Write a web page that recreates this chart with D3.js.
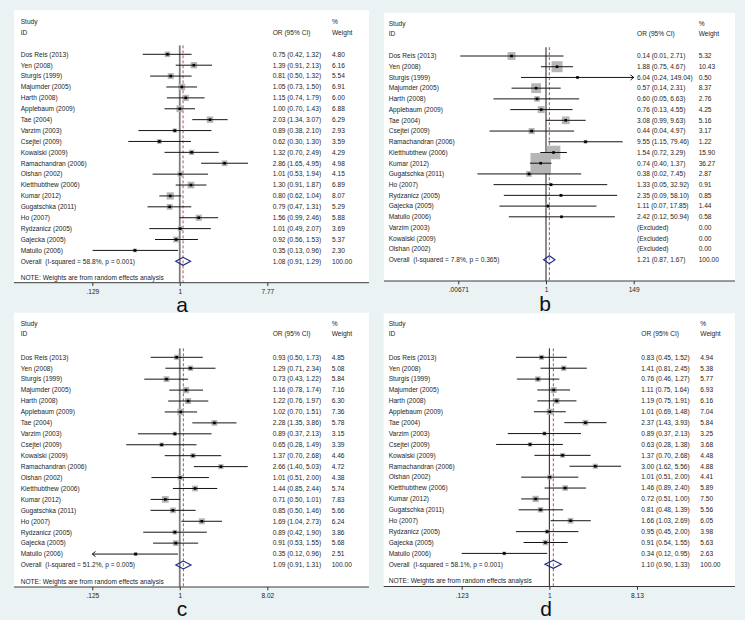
<!DOCTYPE html>
<html><head><meta charset="utf-8">
<script src="https://cdn.jsdelivr.net/npm/d3@7"></script>
<style>
body{margin:0;background:#eaf2f3;}
svg{display:block}
text{font-family:"Liberation Sans",Arial,sans-serif;}
</style></head><body>
<svg id="chart" width="745" height="620"></svg>
<script>
// ---------------- DATA ----------------
const studies = ["Dos Reis (2013)","Yen (2008)","Sturgis (1999)","Majumder (2005)","Harth (2008)","Applebaum (2009)","Tae (2004)","Varzim (2003)","Csejtei (2009)","Kowalski (2009)","Ramachandran (2006)","Olshan (2002)","Kietthubthew (2006)","Kumar (2012)","Gugatschka (2011)","Ho (2007)","Rydzanicz (2005)","Gajecka (2005)","Matullo (2006)"];
const studiesB = ["Dos Reis (2013)","Yen (2008)","Sturgis (1999)","Majumder (2005)","Harth (2008)","Applebaum (2009)","Tae (2004)","Csejtei (2009)","Ramachandran (2006)","Kietthubthew (2006)","Kumar (2012)","Gugatschka (2011)","Ho (2007)","Rydzanicz (2005)","Gajecka (2005)","Matullo (2006)","Varzim (2003)","Kowalski (2009)","Olshan (2002)"];

// panel a
const orA = [0.75,1.39,0.81,1.05,1.15,1.00,2.03,0.89,0.62,1.32,2.86,1.01,1.30,0.80,0.79,1.56,1.01,0.92,0.35];
const loA = [0.42,0.91,0.50,0.73,0.74,0.70,1.34,0.38,0.30,0.70,1.65,0.53,0.91,0.62,0.47,0.99,0.49,0.56,0.13];
const hiA = [1.32,2.13,1.32,1.50,1.79,1.43,3.07,2.10,1.30,2.49,4.95,1.94,1.87,1.04,1.31,2.46,2.07,1.53,0.96];
const wtA = [4.80,6.16,5.54,6.91,6.00,6.88,6.29,2.93,3.59,4.29,4.98,4.15,6.89,8.07,5.29,5.88,3.69,5.37,2.30];
const overallA = [1.08,0.91,1.29]; const hetA = [58.8,0.001];
const ticksA = [0.129,1,7.77]; const tickLabelsA = [".129","1","7.77"];

// panel b (null = excluded)
const orB = [0.14,1.88,6.04,0.57,0.60,0.76,3.08,0.44,9.55,1.54,0.74,0.38,1.33,2.35,1.11,2.42,null,null,null];
const loB = [0.0075,0.75,0.24,0.14,0.05,0.13,0.99,0.04,1.15,0.72,0.40,0.02,0.05,0.09,0.07,0.12,null,null,null];
const hiB = [2.71,4.67,149.04,2.31,6.63,4.55,9.63,4.97,79.46,3.29,1.37,7.45,32.92,58.10,17.85,50.94,null,null,null];
const wtB = [5.32,10.43,0.50,8.37,2.76,4.25,5.16,3.17,1.22,15.90,36.27,2.87,0.91,0.85,1.44,0.58,0.00,0.00,0.00];
const overallB = [1.21,0.87,1.67]; const hetB = [7.8,0.365];
const ticksB = [0.00671,1,149]; const tickLabelsB = [".00671","1","149"];

// panel c
const orC = [0.93,1.29,0.73,1.16,1.22,1.02,2.28,0.89,0.65,1.37,2.66,1.01,1.44,0.71,0.85,1.69,0.89,0.91,0.35];
const loC = [0.50,0.71,0.43,0.78,0.76,0.70,1.35,0.37,0.28,0.70,1.40,0.51,0.85,0.50,0.50,1.04,0.42,0.53,0.12];
const hiC = [1.73,2.34,1.22,1.74,1.97,1.51,3.86,2.13,1.49,2.68,5.03,2.00,2.44,1.01,1.46,2.73,1.90,1.55,0.96];
const wtC = [4.85,5.08,5.84,7.16,6.30,7.36,5.78,3.15,3.39,4.46,4.72,4.38,5.74,7.83,5.66,6.24,3.86,5.68,2.51];
const overallC = [1.09,0.91,1.31]; const hetC = [51.2,0.005];
const ticksC = [0.125,1,8.02]; const tickLabelsC = [".125","1","8.02"];

// panel d
const orD = [0.83,1.41,0.76,1.11,1.19,1.01,2.37,0.89,0.63,1.37,3.00,1.01,1.46,0.72,0.81,1.66,0.95,0.91,0.34];
const loD = [0.45,0.81,0.46,0.75,0.75,0.69,1.43,0.37,0.28,0.70,1.62,0.51,0.89,0.51,0.48,1.03,0.45,0.54,0.123];
const hiD = [1.52,2.45,1.27,1.64,1.91,1.48,3.93,2.13,1.38,2.68,5.56,2.00,2.40,1.00,1.39,2.69,2.00,1.55,0.95];
const wtD = [4.94,5.38,5.77,6.93,6.16,7.04,5.84,3.25,3.68,4.48,4.88,4.41,5.89,7.50,5.56,6.05,3.98,5.63,2.63];
const overallD = [1.10,0.90,1.33]; const hetD = [58.1,0.001];
const ticksD = [0.123,1,8.13]; const tickLabelsD = [".123","1","8.13"];

const panelLetters = ["a","b","c","d"];
const noteText = "NOTE: Weights are from random effects analysis";

// ---------------- LAYOUT / STYLE ----------------
const layouts = [
  {x0:14, x1:369, top:10, axisY:282.7, xr:[92.3,267.3], firstRow:54.3, overallRow:261.3, noteY:277.3, hdrY:21.7, idY:33, studyX:20.7, orX:272.7, wtX:332, boxK:2.55, nullColor:"#7d7d7d", nullW:1.8, letterX:182, letterY:312},
  {x0:384, x1:735, top:12.7, axisY:281, xr:[458.3,633.7], firstRow:56, overallRow:259.7, noteY:null, hdrY:23.3, idY:33.3, studyX:388.7, orX:637, wtX:698.7, boxK:3.4, nullColor:"#1a1a1a", nullW:1, letterX:545, letterY:311},
  {x0:14, x1:369, top:312.7, axisY:587, xr:[92.3,267.3], firstRow:357.3, overallRow:565, noteY:581.5, hdrY:323.3, idY:333.3, studyX:20.7, orX:272.7, wtX:331.7, boxK:2.4, nullColor:"#7d7d7d", nullW:1.8, letterX:182, letterY:615.5},
  {x0:383.7, x1:735, top:313.3, axisY:586.5, xr:[461.7,637], firstRow:357.3, overallRow:564.3, noteY:580.7, hdrY:323.5, idY:333.5, studyX:388.7, orX:641.3, wtX:700.3, boxK:2.3, nullColor:"#1a1a1a", nullW:1, letterX:546, letterY:615.5}
];

const datasets = [
  {studies:studies, or:orA, lo:loA, hi:hiA, wt:wtA, overall:overallA, het:hetA, ticks:ticksA, labels:tickLabelsA, note:true},
  {studies:studiesB, or:orB, lo:loB, hi:hiB, wt:wtB, overall:overallB, het:hetB, ticks:ticksB, labels:tickLabelsB, note:false},
  {studies:studies, or:orC, lo:loC, hi:hiC, wt:wtC, overall:overallC, het:hetC, ticks:ticksC, labels:tickLabelsC, note:true},
  {studies:studies, or:orD, lo:loD, hi:hiD, wt:wtD, overall:overallD, het:hetD, ticks:ticksD, labels:tickLabelsD, note:true}
];

const FS = 6.6;
const TXT = "#1e1e1e";
const svg = d3.select("#chart");
svg.append("rect").attr("width",745).attr("height",620).attr("fill","#eaf2f3");

function fmt(v){ return v.toFixed(2); }

function drawPanel(L, D, letter){
  const g = svg.append("g");
  g.append("rect").attr("x",L.x0).attr("y",L.top).attr("width",L.x1-L.x0).attr("height",L.axisY-L.top).attr("fill","#ffffff");

  const dmin = D.ticks[0], dmax = D.ticks[D.ticks.length-1];
  const x = d3.scaleLog().domain([dmin,dmax]).range(L.xr);
  const rowKeys = D.studies.map((s,i)=>"r"+i).concat(["overall"]);
  const y = d3.scalePoint().domain(rowKeys).range([L.firstRow, L.overallRow]);
  const step = y.step();
  const lineTop = L.firstRow - step*0.82;

  const txt = (xx,yy,s)=>g.append("text").attr("x",xx).attr("y",yy).attr("dy","0.35em")
      .attr("font-size",FS).attr("fill",TXT).attr("xml:space","preserve").style("white-space","pre").text(s);
  txt(L.studyX, L.hdrY, "Study");
  txt(L.studyX, L.idY, "ID");
  txt(L.orX, L.idY, "OR (95% CI)");
  txt(L.wtX, L.hdrY, "%");
  txt(L.wtX, L.idY, "Weight");

  g.append("line").attr("x1",x(1)).attr("x2",x(1)).attr("y1",lineTop).attr("y2",L.axisY)
    .attr("stroke",L.nullColor).attr("stroke-width",L.nullW);
  g.append("line").attr("x1",x(D.overall[0])).attr("x2",x(D.overall[0])).attr("y1",lineTop).attr("y2",L.axisY)
    .attr("stroke","#b03a4a").attr("stroke-width",0.9).attr("stroke-dasharray","3,2");

  const rows = D.studies.map((s,i)=>({s, or:D.or[i], lo:D.lo[i], hi:D.hi[i], wt:D.wt[i], key:"r"+i}));

  g.selectAll("rect.box").data(rows.filter(r=>r.or!=null)).join("rect").attr("class","box")
    .attr("x",r=>x(r.or)-L.boxK*Math.sqrt(r.wt)/2)
    .attr("y",r=>y(r.key)-L.boxK*Math.sqrt(r.wt)/2)
    .attr("width",r=>L.boxK*Math.sqrt(r.wt))
    .attr("height",r=>L.boxK*Math.sqrt(r.wt))
    .attr("fill","#b6b6b6");

  rows.filter(r=>r.or!=null).forEach(r=>{
    const xl = x(Math.max(r.lo,dmin)), xh = x(Math.min(r.hi,dmax)), yy = y(r.key);
    g.append("line").attr("x1",xl).attr("x2",xh).attr("y1",yy).attr("y2",yy)
      .attr("stroke","#141414").attr("stroke-width",1);
    if (r.lo < dmin) {
      g.append("path").attr("d",`M${xl+3.2},${yy-2.6}L${xl},${yy}L${xl+3.2},${yy+2.6}`)
        .attr("fill","none").attr("stroke","#141414").attr("stroke-width",1);
    }
    if (r.hi > dmax) {
      g.append("path").attr("d",`M${xh-3.2},${yy-2.6}L${xh},${yy}L${xh-3.2},${yy+2.6}`)
        .attr("fill","none").attr("stroke","#141414").attr("stroke-width",1);
    }
  });
  g.selectAll("rect.pt").data(rows.filter(r=>r.or!=null)).join("rect").attr("class","pt")
    .attr("x",r=>x(r.or)-1.3).attr("y",r=>y(r.key)-1.3).attr("width",2.6).attr("height",2.6).attr("fill","#000");

  rows.forEach(r=>{
    const yy = y(r.key);
    txt(L.studyX, yy, r.s);
    txt(L.orX, yy, r.or==null ? "(Excluded)" : `${fmt(r.or)} (${fmt(r.lo)}, ${fmt(r.hi)})`);
    txt(L.wtX, yy, fmt(r.wt));
  });

  const oy = y("overall"), [oo,ol,oh] = D.overall;
  g.append("path").attr("d",`M${x(ol)},${oy}L${x(oo)},${oy-4}L${x(oh)},${oy}L${x(oo)},${oy+4}Z`)
    .attr("fill","none").attr("stroke","#1c2480").attr("stroke-width",1.1);
  txt(L.studyX, oy, `Overall  (I-squared = ${D.het[0].toFixed(1)}%, p = ${D.het[1].toFixed(3)})`);
  txt(L.orX, oy, `${fmt(oo)} (${fmt(ol)}, ${fmt(oh)})`);
  txt(L.wtX, oy, "100.00");

  if (D.note) txt(L.studyX, L.noteY, noteText);

  const ax = g.append("g").attr("transform",`translate(0,${L.axisY})`)
    .call(d3.axisBottom(x).tickValues(D.ticks).tickFormat((d,i)=>D.labels[i]).tickSize(3.3).tickPadding(3.2));
  ax.select(".domain").remove();
  ax.selectAll(".tick line").attr("stroke","#333");
  ax.selectAll(".tick text").attr("font-size",FS).attr("fill",TXT).attr("font-family","Liberation Sans, Arial, sans-serif");
  g.append("line").attr("x1",L.x0).attr("x2",L.x1).attr("y1",L.axisY).attr("y2",L.axisY)
    .attr("stroke","#3a3a3a").attr("stroke-width",1);

  g.append("text").attr("x",L.letterX).attr("y",L.letterY).attr("text-anchor","middle")
    .attr("font-family","'Liberation Serif','Times New Roman',serif").attr("font-size",21).attr("fill","#111").text(letter);
}

layouts.forEach((L,i)=>drawPanel(L, datasets[i], panelLetters[i]));
</script>
</body></html>
